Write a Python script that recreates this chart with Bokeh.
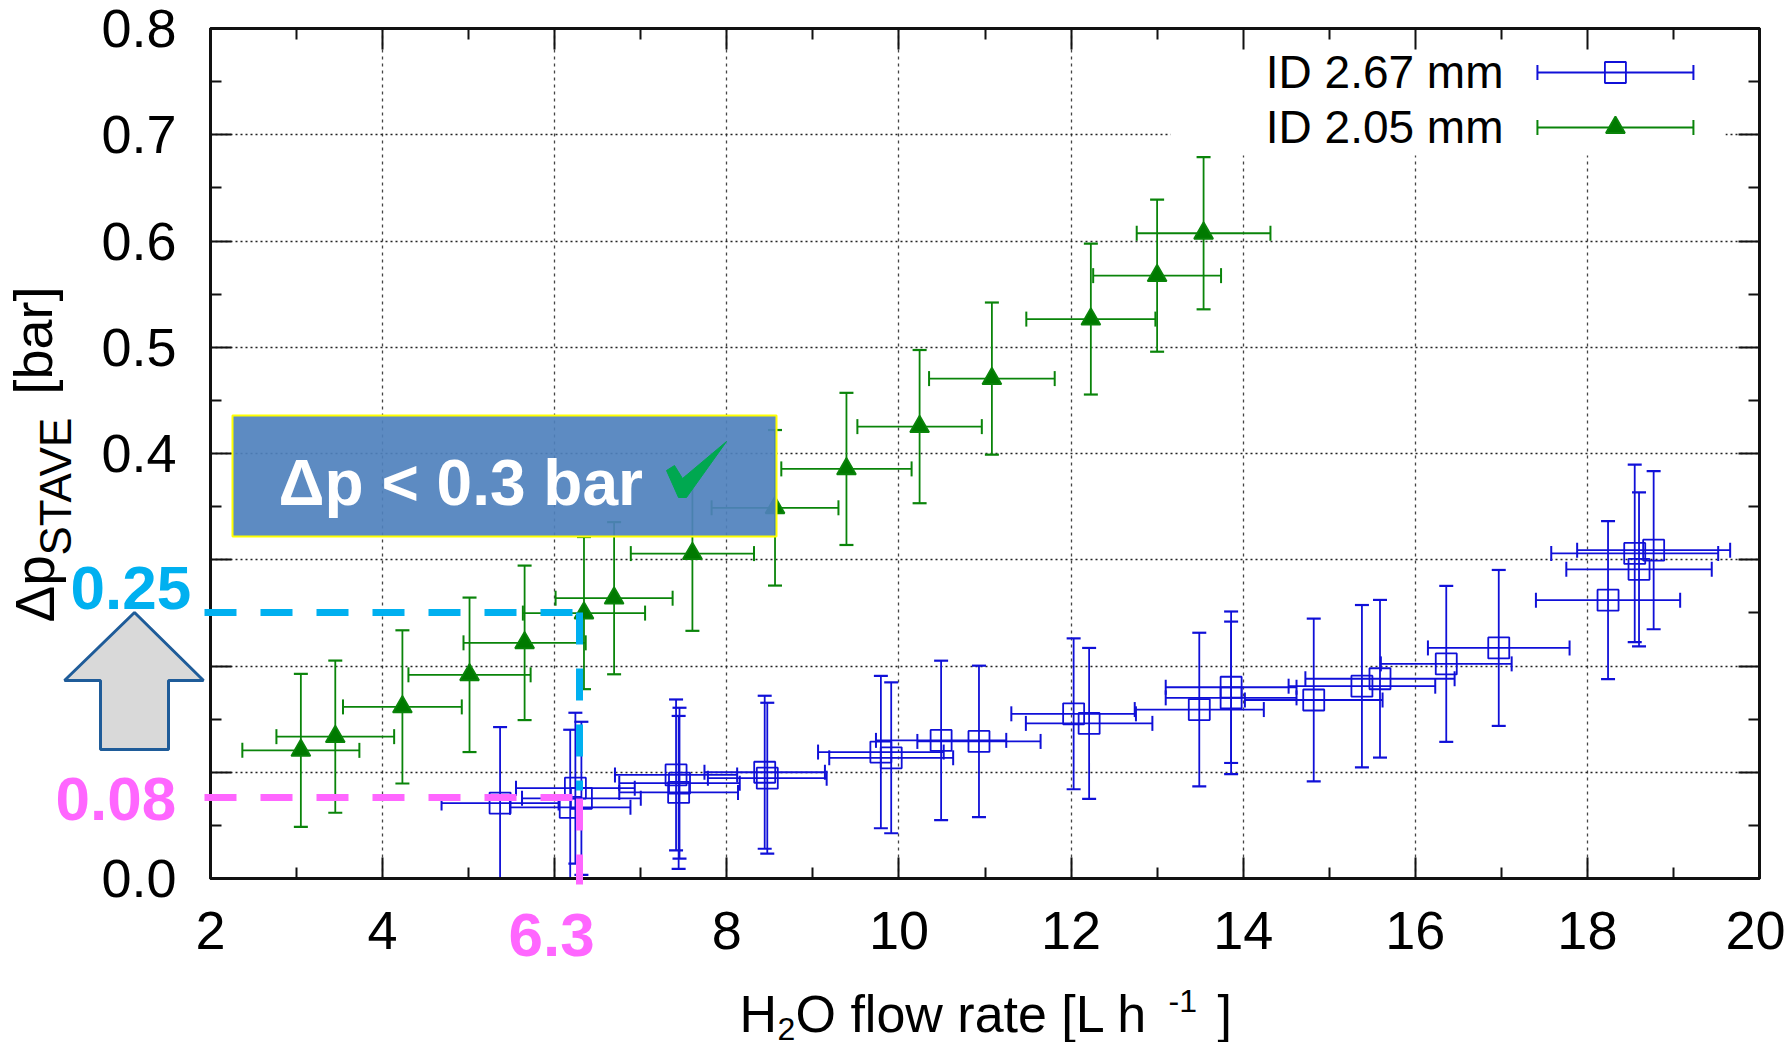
import math
from bokeh.plotting import figure
from bokeh.models import LinearAxis, FixedTicker, Grid, ColumnDataSource, Range1d
from bokeh.core.properties import value
from bokeh.embed import file_html
from bokeh.resources import INLINE

green_x = [3.05, 3.45, 4.23, 5.01, 5.65, 6.34, 6.69, 7.60, 8.56, 9.39, 10.24, 11.08, 12.23, 13.00, 13.54]
green_y = [.1206, .1335, .1615, .1917, .2218, .2498, .2638, .3058, .3489, .3855, .4253, .4705, .5265, .5674, .6073]
green_xerr = [.68, .684, .69, .71, .71, .71, .68, .716, .737, .757, .723, .73, .75, .743, .777]
green_yerr = [.072, .0716, .0721, .0727, .0727, .0716, .0716, .0727, .0732, .0716, .0721, .0716, .071, .0716, .0716]

blue_x = [5.365, 6.18, 6.24, 6.31, 7.41, 7.45, 7.44, 8.44, 8.47, 9.79, 9.91, 10.49, 10.93, 12.03, 12.21, 13.49,
          13.86, 13.86, 14.82, 15.38, 15.59, 16.36, 16.97, 18.24, 18.60, 18.55, 18.77]
blue_y = [.071, .067, .085, .0755, .0975, .0897, .081, .100, .0944, .119, .1136, .130, .129, .155, .146, .159,
          .180, .170, .168, .181, .188, .202, .217, .262, .291, .306, .309]
blue_xerr = [.68, .70, .69, .69, .71, .70, .69, .70, .69, .73, .72, .757, .716, .724, .735, .75,
             .76, .76, .80, .852, .867, .76, .823, .838, .845, .97, .889]
blue_yerr = [.0715, .073, .071, .072, .071, .071, .072, .072, .071, .0717, .071, .075, .0713, .071, .071, .0723,
             .0713, .0718, .0766, .0764, .0742, .0734, .0734, .0743, .0725, .0835, .0744]

x_ticks = [2, 4, 6, 8, 10, 12, 14, 16, 18, 20]
y_ticks = [0.0, 0.1, 0.2, 0.3, 0.4, 0.5, 0.6, 0.7, 0.8]
y_hidden = [0.1, 0.2, 0.3]
x_hidden = [6]
series_names = ["ID 2.67 mm", "ID 2.05 mm"]

FONT = "Liberation Sans"
BLUE = "#1010d8"
GREEN = "#0a840a"
CYAN = "#00b0f0"
MAGENTA = "#ff66ff"
W, H = 1785, 1042

def fx(px):
    return 2 + (px - 210) / 86.06
def fy(py):
    return (878 - py) / 1062.5

p = figure(width=W, height=H, output_backend="svg", toolbar_location=None,
           x_range=Range1d(2, 20), y_range=Range1d(0, 0.8),
           min_border_left=210, min_border_right=26, min_border_top=28, min_border_bottom=164,
           x_axis_location=None, y_axis_location=None, background_fill_color="white")
p.grid.visible = False
p.outline_line_color = "#111111"
p.outline_line_width = 3

xt = FixedTicker(ticks=x_ticks, minor_ticks=[t + 1 for t in x_ticks[:-1]])
yt = FixedTicker(ticks=y_ticks, minor_ticks=[t + 0.05 for t in y_ticks[:-1]])

def style(ax):
    ax.axis_line_color = "#111111"
    ax.axis_line_width = 3
    ax.major_tick_line_color = "#111111"
    ax.minor_tick_line_color = "#111111"
    ax.major_tick_line_width = 2
    ax.minor_tick_line_width = 2
    ax.major_tick_in = 21
    ax.major_tick_out = 0
    ax.minor_tick_in = 11
    ax.minor_tick_out = 0
    ax.major_label_text_font = FONT
    ax.major_label_text_color = "black"
    ax.major_label_text_font_size = "54px"

bx = LinearAxis(ticker=xt); style(bx); bx.major_label_standoff = 33
bx.major_label_overrides = {t: "" for t in x_hidden}
ly = LinearAxis(ticker=yt); style(ly); ly.major_label_standoff = 34
ly.major_label_overrides = {0.0: "0.0", **{t: "" for t in y_hidden}}
tx = LinearAxis(ticker=xt); style(tx)
ry = LinearAxis(ticker=yt); style(ry)
for a, ticks in ((tx, x_ticks), (ry, y_ticks)):
    a.major_label_overrides = {t: "" for t in ticks}
    a.major_label_text_font_size = "0px"
    a.major_label_standoff = 0
p.add_layout(bx, "below"); p.add_layout(ly, "left"); p.add_layout(tx, "above"); p.add_layout(ry, "right")

p.add_layout(Grid(dimension=0, ticker=xt, grid_line_color="#444444", grid_line_dash="3 4", grid_line_width=1.3))
p.add_layout(Grid(dimension=1, ticker=yt, grid_line_color="#222222", grid_line_dash="2 3", grid_line_width=1.3))

# white backing of the key
p.quad(left=[fx(1170)], right=[fx(1725)], bottom=[fy(155)], top=[0.8], fill_color="white", line_color=None)

def series(xs, ys, xe, ye, color, marker, size, fill):
    s = ColumnDataSource(dict(
        x=xs, y=ys,
        xl=[a - b for a, b in zip(xs, xe)], xr=[a + b for a, b in zip(xs, xe)],
        yl=[a - b for a, b in zip(ys, ye)], yu=[a + b for a, b in zip(ys, ye)]))
    p.segment(x0="xl", x1="xr", y0="y", y1="y", source=s, line_color=color, line_width=1.8)
    p.segment(x0="x", x1="x", y0="yl", y1="yu", source=s, line_color=color, line_width=1.8)
    p.scatter(x="x", y="yl", marker="dash", size=14, source=s, line_color=color, line_width=2.2)
    p.scatter(x="x", y="yu", marker="dash", size=14, source=s, line_color=color, line_width=2.2)
    p.scatter(x="xl", y="y", marker="dash", size=15, angle=math.pi / 2, source=s, line_color=color, line_width=2)
    p.scatter(x="xr", y="y", marker="dash", size=15, angle=math.pi / 2, source=s, line_color=color, line_width=2)
    p.scatter(x="x", y="y", marker=marker, size=size, source=s, line_color=color, line_width=1.8,
              fill_color=fill)

series(blue_x, blue_y, blue_xerr, blue_yerr, BLUE, "square", 21, None)
series(green_x, green_y, green_xerr, green_yerr, GREEN, "triangle", 19, "#007a00")

def key(py, color, marker, size, fill):
    p.segment(x0=[fx(1537)], x1=[fx(1693)], y0=[fy(py)], y1=[fy(py)], line_color=color, line_width=1.8)
    p.scatter(x=[fx(1537), fx(1693)], y=[fy(py)] * 2, marker="dash", size=15, angle=math.pi / 2,
              line_color=color, line_width=2)
    p.scatter(x=[fx(1615)], y=[fy(py)], marker=marker, size=size, line_color=color, line_width=1.8, fill_color=fill)
key(72, BLUE, "square", 21, None)
key(127, GREEN, "triangle", 19, "#007a00")

# transparent layer on top, whose plotting area is the whole picture (axes in pixels)
o = figure(width=W, height=H, output_backend="svg", toolbar_location=None,
           x_range=Range1d(0, W), y_range=Range1d(H, 0), min_border=0,
           x_axis_location=None, y_axis_location=None,
           styles={"position": "absolute", "left": "0px", "top": "0px"},
           background_fill_color=None, border_fill_color=None, outline_line_color=None)
o.grid.visible = False

def text(px, py, t, size, color="black", bold=False, angle=0.0, align="left"):
    """py is the text's baseline (for rotated text, px is the baseline)."""
    off = 0.36 * size
    x, y = (px - off, py) if angle else (px, py - off)
    o.text(x=[x], y=[y], text=[t], angle=angle, text_color=color, text_font=value(FONT),
           text_font_style="bold" if bold else "normal", text_font_size=f"{size}px",
           text_baseline="middle", text_align=align)

text(1503, 88, series_names[0], 46, align="right")
text(1503, 143, series_names[1], 46, align="right")

# blue callout
o.quad(left=[232], right=[776], top=[415], bottom=[536], fill_color="#4f81bd", fill_alpha=0.92,
       line_color="#ffff00", line_width=2)
text(278, 506, "\u0394p < 0.3 bar", 64, "white", True)
ck = [(666, 470), (674, 465), (682, 478), (726, 441), (686, 497), (678, 497)]
o.patch(x=[a for a, b in ck], y=[b for a, b in ck], fill_color="#00a850", line_color="#00a850", line_width=1)

# gray arrow
arrow_pts = [(134, 612), (64, 680), (100, 680), (100, 749), (168, 749), (168, 680), (203, 680)]
o.patch(x=[a for a, b in arrow_pts], y=[b for a, b in arrow_pts], fill_color="#d9d9d9",
        line_color="#1f5c99", line_width=3)

# dashed guides
def guide(x0, y0, x1, y1, c):
    o.line(x=[x0, x1], y=[y0, y1], line_color=c, line_width=7, line_dash="32 24")
guide(204, 612, 575, 612, CYAN)
guide(579, 612, 579, 790, CYAN)
guide(204, 797, 575, 797, MAGENTA)
guide(579, 798, 579, 884, MAGENTA)

text(70, 610, "0.25", 62, CYAN, True)
text(55, 821, "0.08", 62, MAGENTA, True)
text(508, 957, "6.3", 62, MAGENTA, True)

# axis titles built from pieces (sub/superscripts)
text(739, 1032, "H", 52)
text(777, 1040, "2", 32)
text(795, 1032, "O flow rate [L h", 52)
text(1168, 1012, "-1", 32)
text(1217, 1032, "]", 52)

R = math.pi / 2
text(54, 622, "\u0394p", 55, angle=R)
text(71, 555, "STAVE", 44, angle=R)
text(52, 394, "[bar]", 54, angle=R)

open("out.html", "w").write(file_html([p, o], INLINE))
